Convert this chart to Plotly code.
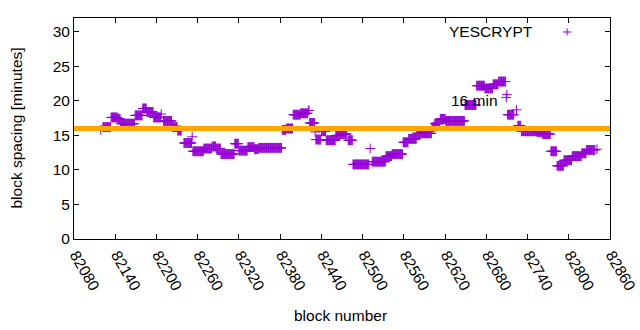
import plotly.graph_objects as go

# Runs of consecutive blocks sharing the same spacing value
seg_start = [82119, 82122, 82134, 82144, 82148, 82169, 82180, 82186, 82196, 82207,
             82210, 82223, 82231, 82240, 82252, 82253, 82269, 82281, 82287, 82294,
             82314, 82320, 82333, 82343, 82349, 82383, 82389, 82399, 82410, 82421,
             82423, 82431, 82432, 82440, 82447, 82461, 82468, 82479, 82486, 82511,
             82514, 82534, 82543, 82559, 82567, 82579, 82601, 82605, 82613, 82621,
             82649, 82666, 82678, 82690, 82698, 82709, 82710, 82711, 82724, 82726,
             82731, 82754, 82762, 82774, 82783, 82793, 82805, 82819, 82826, 82841]
seg_end = [82119, 82133, 82143, 82147, 82168, 82179, 82185, 82195, 82206, 82207,
           82222, 82230, 82236, 82251, 82252, 82268, 82280, 82286, 82293, 82313,
           82319, 82332, 82342, 82348, 82382, 82388, 82398, 82409, 82420, 82422,
           82430, 82431, 82439, 82446, 82460, 82467, 82477, 82485, 82509, 82511,
           82533, 82542, 82558, 82566, 82578, 82600, 82604, 82612, 82620, 82648,
           82665, 82677, 82689, 82697, 82708, 82709, 82710, 82720, 82724, 82730,
           82753, 82761, 82773, 82782, 82792, 82804, 82818, 82825, 82838, 82841]
seg_value = [15.8, 16.2, 17.6, 17.4, 16.7, 17.9, 18.9, 18.4, 17.6, 18.1,
             17.1, 16.2, 15.7, 13.9, 14.8, 12.7, 13.1, 13.4, 13.1, 12.3,
             13.8, 12.8, 13.3, 13.0, 13.2, 15.8, 16.0, 18.0, 18.2, 18.6,
             16.8, 15.5, 14.4, 15.6, 14.3, 15.0, 15.2, 14.3, 10.8, 13.1,
             11.2, 12.0, 12.3, 14.0, 14.5, 15.3, 16.2, 16.7, 17.4, 17.1,
             19.4, 22.2, 21.8, 22.4, 22.8, 20.5, 20.9, 18.0, 18.7, 16.4,
             15.6, 15.5, 15.2, 12.7, 10.6, 11.4, 12.0, 12.4, 12.9, 13.0]

target_minutes = 16
x_ticks = list(range(82080, 82861, 60))
y_ticks = [0, 5, 10, 15, 20, 25, 30]

blocks, spacing = [], []
for s, e, v in zip(seg_start, seg_end, seg_value):
    for b in range(s, e + 1):
        blocks.append(b)
        spacing.append(v)

FONT = "Liberation Sans"
FS = 15.5
PURPLE = "#9400D3"

fig = go.Figure()
fig.add_trace(go.Scatter(
    x=blocks, y=spacing, mode="markers", name="YESCRYPT",
    marker=dict(symbol="cross-thin", size=7, line=dict(color=PURPLE, width=1)),
    showlegend=False, hoverinfo="skip",
))

fig.add_shape(type="line", xref="paper", x0=0, x1=1, yref="y",
              y0=target_minutes, y1=target_minutes,
              line=dict(color="#FFA500", width=5), layer="above")

fig.add_annotation(x=82625, y=20, xref="x", yref="y", text="16 min",
                   showarrow=False, xanchor="left", yanchor="middle",
                   font=dict(family=FONT, size=FS, color="black"))

# key
KEY_Y = 0.9367
fig.add_annotation(x=0.861, y=KEY_Y, xref="paper", yref="paper", text="YESCRYPT",
                   showarrow=False, xanchor="right", yanchor="middle",
                   font=dict(family=FONT, size=FS, color="black"))
fig.add_shape(type="line", xref="paper", yref="paper", x0=0.9125, x1=0.9275,
              y0=KEY_Y, y1=KEY_Y, line=dict(color=PURPLE, width=1))
fig.add_shape(type="line", xref="paper", yref="paper", x0=0.92, x1=0.92,
              y0=KEY_Y - 0.016, y1=KEY_Y + 0.016, line=dict(color=PURPLE, width=1))

# axis titles
fig.add_annotation(x=(340 - 74) / 536, y=-(315 - 239) / 221, xref="paper", yref="paper",
                   text="block number", showarrow=False, xanchor="center", yanchor="middle",
                   font=dict(family=FONT, size=FS, color="black"))
fig.add_annotation(x=-(74 - 16) / 536, y=0.5, xref="paper", yref="paper",
                   text="block spacing [minutes]", textangle=-90, showarrow=False,
                   xanchor="center", yanchor="middle",
                   font=dict(family=FONT, size=FS, color="black"))

axis_common = dict(showline=True, linecolor="black", linewidth=1, mirror="allticks",
                   ticks="inside", ticklen=5, tickcolor="black", showgrid=False,
                   zeroline=False, automargin=False,
                   tickfont=dict(family=FONT, size=FS, color="black"))

fig.update_xaxes(range=[82080, 82860], tickvals=x_ticks,
                 ticktext=[str(t) for t in x_ticks], tickangle=60,
                 ticklabelshift=2, **axis_common)
fig.update_yaxes(range=[0, 32], tickvals=y_ticks, **axis_common)

fig.update_layout(width=640, height=330, margin=dict(l=74, r=30, t=18, b=91),
                  plot_bgcolor="white", paper_bgcolor="white", hovermode=False)

fig.write_html("out.html", config={"displayModeBar": False},
               post_script="document.body.style.margin='0';")
